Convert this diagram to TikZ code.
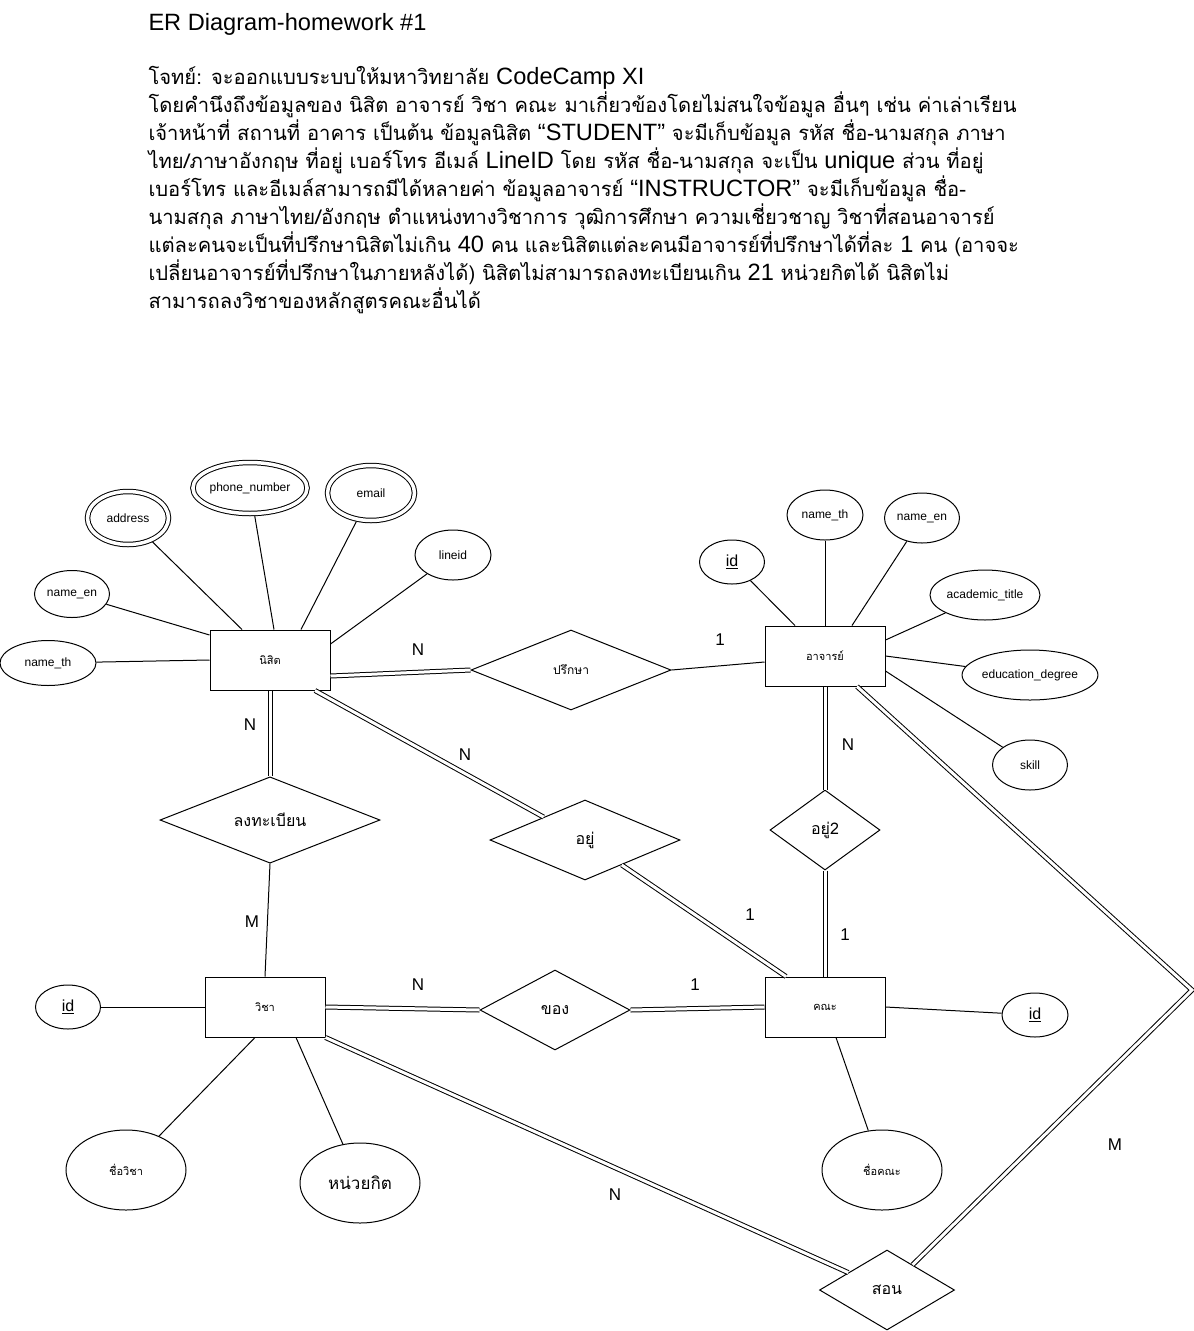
\documentclass[tikz,border=0pt]{standalone}
\usepackage{fontspec}
\setmainfont{Liberation Sans}
\newfontfamily\lat{Liberation Sans}
\newfontfamily\thai[Script=Thai]{Loma}
\newcommand\latn[1]{{\lat\fontsize{23.6}{28}\selectfont #1}}
\usepackage{tikz}
\usetikzlibrary{shapes.geometric}
\tikzstyle{entity} = [draw, rectangle, minimum height=60pt, minimum width=120pt, inner sep=0pt, font=\thai\fontsize{11}{13}\selectfont]
\tikzstyle{attr} = [draw, ellipse, inner sep=0pt, font=\fontsize{12}{14}\selectfont]
\tikzstyle{multi} = [attr, double, double distance=3.5pt, outer sep=2.7pt]
\tikzstyle{key} = [attr, font=\fontsize{16}{18}\selectfont]
\tikzstyle{rel} = [draw, diamond, inner sep=0pt, font=\thai\fontsize{16}{18}\selectfont]
\tikzstyle{total} = [double, double distance=3pt]
\tikzstyle{card} = [font=\fontsize{17}{19}\selectfont]

\begin{document}
\begin{tikzpicture}[x=1pt, y=-1pt, line width=1pt]
	\useasboundingbox (0,0) rectangle (1194,1331);
	\node [anchor=north west, align=left, inner sep=0pt, font=\thai\fontsize{20.2}{28}\selectfont] (task) at (148,13) {\latn{ER Diagram-homework \#1}\\[26pt]
		โจทย์: จะออกแบบระบบให้มหาวิทยาลัย \latn{CodeCamp XI}\\
		โดยคำนึงถึงข้อมูลของ นิสิต อาจารย์ วิชา คณะ มาเกี่ยวข้องโดยไม่สนใจข้อมูล อื่นๆ เช่น ค่าเล่าเรียน\\
		เจ้าหน้าที่ สถานที่ อาคาร เป็นต้น ข้อมูลนิสิต \latn{“STUDENT”} จะมีเก็บข้อมูล รหัส ชื่อ-นามสกุล ภาษา\\
		ไทย/ภาษาอังกฤษ ที่อยู่ เบอร์โทร อีเมล์ \latn{LineID} โดย รหัส ชื่อ-นามสกุล จะเป็น \latn{unique} ส่วน ที่อยู่\\
		เบอร์โทร และอีเมล์สามารถมีได้หลายค่า ข้อมูลอาจารย์ \latn{“INSTRUCTOR”} จะมีเก็บข้อมูล ชื่อ-\\
		นามสกุล ภาษาไทย/อังกฤษ ตำแหน่งทางวิชาการ วุฒิการศึกษา ความเชี่ยวชาญ วิชาที่สอนอาจารย์\\
		แต่ละคนจะเป็นที่ปรึกษานิสิตไม่เกิน \latn{40} คน และนิสิตแต่ละคนมีอาจารย์ที่ปรึกษาได้ที่ละ \latn{1} คน (อาจจะ\\
		เปลี่ยนอาจารย์ที่ปรึกษาในภายหลังได้) นิสิตไม่สามารถลงทะเบียนเกิน \latn{21} หน่วยกิตได้ นิสิตไม่\\
		สามารถลงวิชาของหลักสูตรคณะอื่นได้};

	\node [entity] (nisit) at (270,660) {นิสิต};
	\node [entity] (ajarn) at (825,656) {อาจารย์};
	\node [entity] (wicha) at (265,1007) {วิชา};
	\node [entity] (khana) at (825,1007) {คณะ};

	\node [attr, minimum width=96pt, minimum height=45pt] (nth) at (48,663) {name\_th};
	\node [attr, minimum width=75pt, minimum height=47pt] (nen) at (72,594) {name\_en};
	\node [multi, minimum width=81pt, minimum height=53pt] (addr) at (128,518) {address};
	\node [multi, minimum width=106pt, minimum height=51pt] (phone) at (250,488) {phone\_number};
	\node [multi, minimum width=87pt, minimum height=55pt] (email) at (371,493) {email};
	\node [attr, minimum width=76pt, minimum height=50pt] (lineid) at (453,555) {lineid};

	\node [key, minimum width=65pt, minimum height=44pt] (aid) at (732,562) {\underline{id}};
	\node [attr, minimum width=76pt, minimum height=50pt] (ath) at (825,515) {name\_th};
	\node [attr, minimum width=75pt, minimum height=50pt] (aen) at (922,518) {name\_en};
	\node [attr, minimum width=110pt, minimum height=50pt] (title) at (985,595) {academic\_title};
	\node [attr, minimum width=120pt, minimum height=50pt] (degree) at (1030,675) {education\_degree};
	\node [attr, minimum width=75pt, minimum height=50pt] (skill) at (1030,765) {skill};

	\node [key, minimum width=65pt, minimum height=44pt] (wid) at (68,1007) {\underline{id}};
	\node [attr, minimum width=120pt, minimum height=80pt, font=\thai\fontsize{11}{13}\selectfont] (wname) at (126,1170) {ชื่อวิชา};
	\node [attr, minimum width=120pt, minimum height=80pt, font=\thai\fontsize{17}{19}\selectfont] (credit) at (360,1183) {หน่วยกิต};
	\node [key, minimum width=66pt, minimum height=44pt] (kid) at (1035,1015) {\underline{id}};
	\node [attr, minimum width=120pt, minimum height=80pt, font=\thai\fontsize{11}{13}\selectfont] (kname) at (882,1170) {ชื่อคณะ};

	\node [rel, minimum width=200pt, minimum height=80pt, font=\thai\fontsize{12}{14}\selectfont] (adv) at (571,670) {ปรึกษา};
	\node [rel, minimum width=220pt, minimum height=80pt] (reg) at (270,820) {ลงทะเบียน};
	\node [rel, minimum width=190pt, minimum height=80pt] (stay) at (585,840) {อยู่};
	\node [rel, minimum width=110pt, minimum height=80pt] (stay2) at (825,830) {อยู่2};
	\node [rel, minimum width=150pt, minimum height=80pt] (belong) at (555,1010) {ของ};
	\node [rel, minimum width=135pt, minimum height=80pt] (teach) at (887,1290) {สอน};
	\coordinate (bend) at (1192,990);

	\draw (nth) -- (nisit.west);
	\draw (nen) -- ([yshift=25pt]nisit.west);
	\draw (addr) -- ([xshift=-28pt]nisit.north);
	\draw (phone) -- ([xshift=4pt]nisit.north);
	\draw (email) -- ([xshift=31pt]nisit.north);
	\draw (lineid) -- ([yshift=16pt]nisit.east);

	\draw (aid) -- ([xshift=-30pt]ajarn.north);
	\draw (ath) -- (ajarn.north);
	\draw (aen) -- ([xshift=27pt]ajarn.north);
	\draw (title) -- ([yshift=16pt]ajarn.east);
	\draw (degree) -- (ajarn.east);
	\draw (skill) -- ([yshift=-15pt]ajarn.east);

	\draw (wid) -- (wicha.west);
	\draw (wname) -- ([xshift=-10pt]wicha.south);
	\draw (credit) -- ([xshift=31pt]wicha.south);
	\draw (kid) -- (khana.east);
	\draw (kname) -- ([xshift=11pt]khana.south);

	\draw [total] ([yshift=-16pt]nisit.east) -- (adv.west);
	\draw (adv.east) -- ([yshift=-6pt]ajarn.west);
	\draw [total] (nisit.south) -- (reg.north);
	\draw (reg.south) -- (wicha.north);
	\draw [total] ([xshift=45pt]nisit.south) -- (stay);
	\draw [total] (stay) -- ([xshift=-39pt]khana.north);
	\draw [total] (ajarn.south) -- (stay2.north);
	\draw [total] (stay2.south) -- (khana.north);
	\draw [total] (wicha.east) -- (belong.west);
	\draw [total] (belong.east) -- (khana.west);
	\draw [total] (wicha.south east) -- (teach);
	\draw [total] ([xshift=32pt]ajarn.south) -- (bend) -- (teach);

	\node [card] (advN) at (418,650) {N};
	\node [card] (adv1) at (720,640) {1};
	\node [card] (regN) at (250,725) {N};
	\node [card] (regM) at (252,922) {M};
	\node [card] (stayN) at (465,755) {N};
	\node [card] (stay1) at (750,915) {1};
	\node [card] (stay2N) at (848,745) {N};
	\node [card] (stay21) at (845,935) {1};
	\node [card] (belongN) at (418,985) {N};
	\node [card] (belong1) at (695,985) {1};
	\node [card] (teachN) at (615,1195) {N};
	\node [card] (teachM) at (1115,1145) {M};
\end{tikzpicture}
\end{document}
